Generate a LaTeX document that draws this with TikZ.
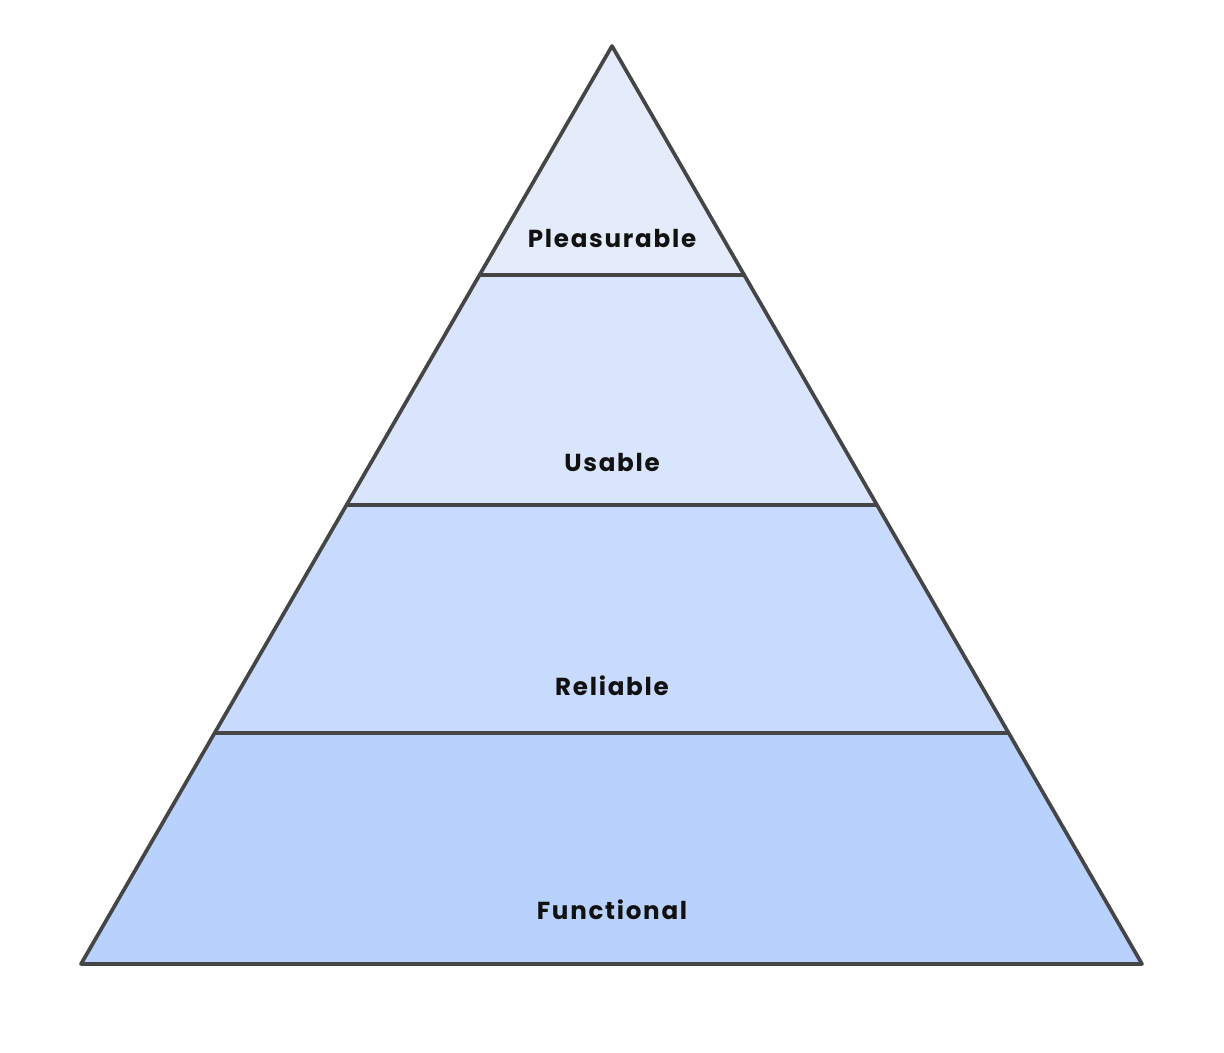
\documentclass[tikz,border=0pt]{standalone}
\usepackage{fontspec}
\setmainfont{Poppins}
\newfontfamily\tierfont{Poppins}[LetterSpace=7]
\usepackage{tikz}
\usetikzlibrary{calc}
\definecolor{ink}{HTML}{111111}
\definecolor{edge}{HTML}{454545}
\definecolor{tierA}{HTML}{E4ECFC}
\definecolor{tierB}{HTML}{D8E5FD}
\definecolor{tierC}{HTML}{C8DAFD}
\definecolor{tierD}{HTML}{B9D2FD}

\begin{document}
\begin{tikzpicture}[x=0.02cm,y=-0.02cm,
  outline/.style={draw=edge,line width=2.1pt,line join=round,line cap=round},
  divider/.style={draw=edge,line width=2.1pt},
  tier/.style={font=\tierfont\bfseries\fontsize{14}{17}\selectfont,text=ink,inner sep=0pt}]
\useasboundingbox (0,0) rectangle (1224,1052);
% corners of the pyramid and its tier edges
\coordinate (apex) at (612,46);
\coordinate (l1) at (479,275);  \coordinate (r1) at (745,275);
\coordinate (l2) at (346,505);  \coordinate (r2) at (878,505);
\coordinate (l3) at (214,733);  \coordinate (r3) at (1010,733);
\coordinate (bl) at (81,964);   \coordinate (br) at (1142,964);
% tiers
\fill[tierA] (apex) -- (r1) -- (l1) -- cycle;
\fill[tierB] (l1) -- (r1) -- (r2) -- (l2) -- cycle;
\fill[tierC] (l2) -- (r2) -- (r3) -- (l3) -- cycle;
\fill[tierD] (l3) -- (r3) -- (br) -- (bl) -- cycle;
\draw[divider] (l1) -- (r1);
\draw[divider] (l2) -- (r2);
\draw[divider] (l3) -- (r3);
\draw[outline] (apex) -- (br) -- (bl) -- cycle;
% labels
\node[tier] (pleasurable) at (612,238) {Pleasurable};
\node[tier] (usable) at (612,462) {Usable};
\node[tier] (reliable) at (612,686) {Reliable};
\node[tier] (functional) at (612,910) {Functional};
\end{tikzpicture}
\end{document}
